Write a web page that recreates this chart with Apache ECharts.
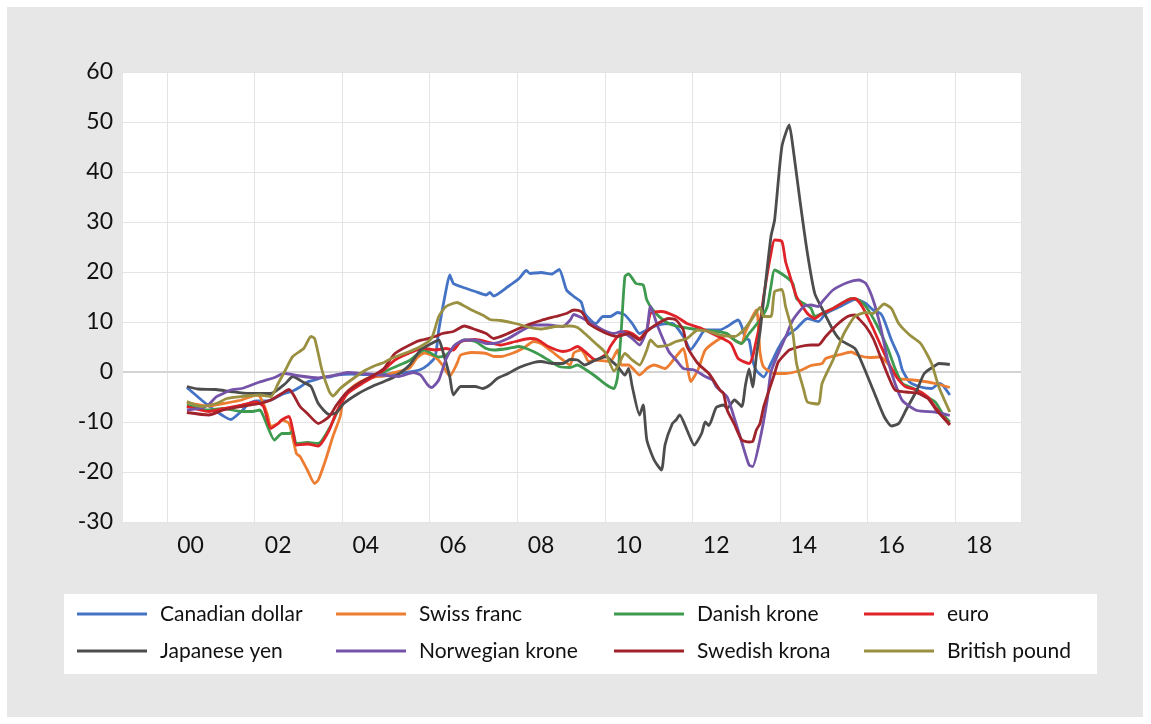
<!DOCTYPE html>
<html>
<head>
<meta charset="utf-8">
<script src="https://cdn.jsdelivr.net/npm/echarts@6/dist/echarts.min.js"></script>
<style>
  html, body { margin: 0; padding: 0; background: #fff; }
  #main { width: 1151px; height: 724px; }
</style>
</head>
<body>
<div id="main"></div>
<script>
// monthly categories, Jan 1999 .. Jun 2019
var months = [];
for (var yr = 1999; yr <= 2019; yr++) {
  for (var mo = 1; mo <= 12; mo++) {
    if (yr === 2019 && mo > 6) break;
    months.push(yr + '-' + (mo < 10 ? '0' + mo : '' + mo));
  }
}
var yearLabels = ['00', '02', '04', '06', '08', '10', '12', '14', '16', '18'];

var names = ['Canadian dollar', 'Swiss franc', 'Danish krone', 'euro',
             'Japanese yen', 'Norwegian krone', 'Swedish krona', 'British pound'];
var colors = ['#4472C4', '#ED7D31', '#3E9A4E', '#DF2329',
              '#4D4D4D', '#7553A8', '#A0222B', '#9A9041'];

var cad = [['2000-06',-3.1],['2000-10',-5.6],['2000-12',-6.8],['2001-02',-7.8],['2001-04',-8.8],['2001-06',-9.5],
  ['2001-09',-7.8],['2001-11',-6.3],['2002-01',-5.8],['2002-04',-5.8],['2002-06',-5.3],['2002-08',-4.5],['2002-11',-3.8],
  ['2003-01',-3.0],['2003-03',-2.0],['2003-05',-1.6],['2003-07',-1.1],['2003-09',-1.0],['2003-11',-0.6],['2004-03',-0.4],
  ['2004-07',-0.5],['2004-11',-0.5],['2005-03',-0.3],['2005-07',0.0],['2005-10',0.5],['2005-12',1.4],['2006-02',3.0],
  ['2006-03',8.4],['2006-05',16.4],['2006-06',19.4],['2006-07',17.7],['2006-09',17.1],['2007-01',16.1],['2007-04',15.4],
  ['2007-05',15.9],['2007-06',15.2],['2007-10',17.1],['2008-01',18.7],['2008-03',20.3],['2008-04',19.7],['2008-07',19.9],
  ['2008-10',19.6],['2008-12',20.5],['2009-02',16.4],['2009-04',15.1],['2009-06',14.0],['2009-07',11.7],['2009-09',10.1],
  ['2009-10',9.7],['2009-12',11.1],['2010-02',11.1],['2010-04',11.9],['2010-06',11.4],['2010-08',9.7],['2010-10',7.7],
  ['2010-12',8.4],['2011-03',9.4],['2011-07',9.7],['2011-10',7.1],['2011-12',4.5],['2012-02',6.4],['2012-04',8.4],
  ['2012-08',8.4],['2012-10',9.1],['2013-01',10.4],['2013-02',9.1],['2013-03',6.7],['2013-04',6.4],['2013-05',2.3],
  ['2013-06',0.3],['2013-08',-1.0],['2013-10',1.7],['2013-12',4.7],['2014-02',7.0],['2014-05',8.7],['2014-08',10.7],
  ['2014-11',10.1],['2015-01',11.7],['2015-05',13.1],['2015-09',14.5],['2015-10',14.4],['2015-12',13.7],['2016-02',12.4],
  ['2016-04',11.7],['2016-05',10.4],['2016-07',6.4],['2016-09',3.1],['2016-10',0.4],['2016-12',-2.0],['2017-03',-3.0],
  ['2017-06',-3.3],['2017-08',-2.3],['2017-09',-2.6],['2017-11',-4.6]];

var chf = [['2000-06',-6.1],['2000-12',-6.8],['2001-04',-6.3],['2001-09',-5.6],['2002-01',-4.6],['2002-02',-4.9],
  ['2002-04',-8.3],['2002-05',-10.9],['2002-07',-10.3],['2002-08',-9.6],['2002-10',-10.3],['2002-12',-16.3],['2003-01',-16.9],
  ['2003-03',-19.6],['2003-05',-22.3],['2003-06',-21.6],['2003-08',-17.6],['2003-10',-12.9],['2003-12',-8.9],['2004-01',-4.9],
  ['2004-04',-2.6],['2004-08',-1.1],['2004-12',-0.8],['2005-02',-0.3],['2005-07',0.8],['2005-09',2.8],['2005-11',3.8],
  ['2006-02',3.0],['2006-04',1.4],['2006-06',-0.8],['2006-08',1.7],['2006-09',3.4],['2006-12',3.9],['2007-04',3.7],
  ['2007-06',3.1],['2007-08',3.1],['2007-11',3.7],['2008-02',4.7],['2008-05',6.1],['2008-07',5.7],['2008-10',4.1],
  ['2009-01',2.4],['2009-03',1.4],['2009-04',3.8],['2009-06',4.4],['2009-07',3.5],['2009-08',2.1],['2009-10',2.4],
  ['2010-02',2.1],['2010-04',4.4],['2010-05',1.4],['2010-07',1.4],['2010-10',-0.6],['2010-12',0.7],['2011-02',1.4],
  ['2011-05',0.7],['2011-08',3.1],['2011-10',4.7],['2011-11',1.7],['2011-12',-1.9],['2012-02',0.4],['2012-04',4.4],
  ['2012-07',6.2],['2012-10',7.4],['2012-12',6.4],['2013-02',5.7],['2013-03',8.0],['2013-06',12.4],['2013-07',4.0],
  ['2013-08',1.0],['2013-11',-0.3],['2014-02',-0.3],['2014-06',0.3],['2014-09',1.3],['2014-12',1.7],['2015-01',2.7],
  ['2015-05',3.5],['2015-08',4.0],['2015-10',3.3],['2016-01',2.9],['2016-04',3.0],['2016-06',1.7],['2016-08',-0.3],
  ['2016-09',-1.3],['2017-01',-1.6],['2017-05',-2.0],['2017-07',-2.3],['2017-11',-3.1]];

var dkk = [['2000-06',-6.6],['2000-12',-7.6],['2001-04',-7.3],['2001-09',-7.9],['2001-12',-7.9],['2002-02',-7.6],
  ['2002-03',-8.9],['2002-06',-13.6],['2002-07',-12.9],['2002-08',-12.3],['2002-10',-12.3],['2002-11',-11.9],['2002-12',-14.3],
  ['2003-03',-14.1],['2003-06',-14.3],['2003-09',-11.3],['2003-11',-8.3],['2004-01',-4.9],['2004-05',-2.5],['2004-10',-0.6],
  ['2005-03',1.0],['2005-07',2.3],['2005-11',4.4],['2006-03',3.0],['2006-05',3.4],['2006-08',5.4],['2006-10',6.4],
  ['2007-01',6.1],['2007-04',4.7],['2007-06',4.4],['2007-10',4.7],['2008-01',5.1],['2008-03',4.7],['2008-06',3.7],
  ['2008-09',2.4],['2008-12',1.1],['2009-03',0.9],['2009-05',1.4],['2009-07',0.6],['2009-10',-0.9],['2010-01',-2.6],
  ['2010-03',-3.3],['2010-04',-0.9],['2010-05',8.4],['2010-06',19.1],['2010-07',19.6],['2010-09',17.7],['2010-11',17.4],
  ['2010-12',14.4],['2011-02',12.1],['2011-05',10.1],['2011-07',9.4],['2011-11',8.8],['2012-03',8.4],['2012-07',8.1],
  ['2012-10',7.7],['2012-12',6.4],['2013-02',5.7],['2013-04',7.7],['2013-07',10.4],['2013-09',13.1],['2013-10',17.1],
  ['2013-11',20.4],['2014-02',19.1],['2014-04',17.7],['2014-05',14.7],['2014-07',13.7],['2014-09',12.7],['2014-10',11.1],
  ['2014-12',11.7],['2015-03',12.7],['2015-06',14.0],['2015-08',14.7],['2015-10',14.4],['2015-12',13.1],['2016-03',9.4],
  ['2016-06',4.7],['2016-08',0.7],['2016-10',-2.3],['2017-01',-3.3],['2017-04',-4.7],['2017-07',-6.0],['2017-09',-8.3],
  ['2017-11',-10.0]];

var eur = [['2000-06',-6.9],['2000-12',-7.9],['2001-04',-7.3],['2001-09',-6.6],['2002-01',-6.0],['2002-03',-6.9],
  ['2002-05',-11.3],['2002-07',-10.3],['2002-08',-9.6],['2002-10',-8.9],['2002-11',-11.6],['2002-12',-14.6],['2003-03',-14.4],
  ['2003-06',-14.8],['2003-09',-11.6],['2003-11',-8.0],['2004-02',-4.3],['2004-06',-2.3],['2004-10',-0.6],['2004-12',0.4],
  ['2005-03',2.4],['2005-09',4.4],['2005-11',4.7],['2006-02',4.4],['2006-05',4.7],['2006-07',4.4],['2006-09',6.1],
  ['2007-01',6.5],['2007-05',5.9],['2007-08',5.4],['2007-12',6.1],['2008-04',6.7],['2008-06',6.5],['2008-09',5.1],
  ['2009-01',4.1],['2009-03',4.4],['2009-05',5.1],['2009-07',4.1],['2009-10',2.4],['2010-01',3.7],['2010-02',5.1],
  ['2010-04',7.1],['2010-06',8.1],['2010-08',7.7],['2010-10',6.7],['2010-12',8.4],['2011-01',11.7],['2011-04',12.1],
  ['2011-08',11.1],['2011-11',9.7],['2012-03',8.7],['2012-07',7.3],['2012-11',5.7],['2013-01',2.7],['2013-04',1.7],
  ['2013-05',3.1],['2013-06',6.4],['2013-07',9.7],['2013-08',15.1],['2013-10',23.7],['2013-11',26.4],['2014-01',26.1],
  ['2014-02',22.1],['2014-03',19.7],['2014-05',15.1],['2014-08',11.7],['2014-10',10.7],['2014-12',11.7],['2015-03',12.7],
  ['2015-07',14.4],['2015-09',14.7],['2015-11',13.1],['2016-02',8.7],['2016-04',5.4],['2016-07',0.7],['2016-09',-1.6],
  ['2016-11',-3.0],['2017-02',-3.6],['2017-05',-5.0],['2017-07',-7.0],['2017-11',-10.5]];

var jpy = [['2000-06',-2.9],['2000-09',-3.4],['2001-02',-3.5],['2001-06',-3.9],['2001-11',-4.3],['2002-05',-4.3],
  ['2002-09',-2.3],['2002-11',-0.9],['2003-02',-2.1],['2003-04',-2.9],['2003-06',-6.3],['2003-09',-8.5],['2003-11',-8.1],
  ['2004-01',-6.3],['2004-05',-4.3],['2004-09',-2.8],['2004-12',-1.9],['2005-03',-0.9],['2005-07',1.4],['2005-10',4.4],
  ['2006-01',5.7],['2006-03',6.4],['2006-04',4.4],['2006-06',-0.9],['2006-07',-4.6],['2006-09',-2.9],['2007-01',-2.9],
  ['2007-03',-3.3],['2007-05',-2.6],['2007-07',-1.3],['2007-10',-0.3],['2008-01',0.9],['2008-05',1.9],['2008-07',2.1],
  ['2008-10',1.7],['2009-01',1.7],['2009-03',2.5],['2009-05',2.4],['2009-07',1.4],['2009-10',2.4],['2010-01',3.1],
  ['2010-02',2.4],['2010-04',1.1],['2010-06',-0.6],['2010-07',0.7],['2010-08',-2.9],['2010-10',-8.6],['2010-11',-6.6],
  ['2010-12',-13.6],['2011-02',-17.6],['2011-04',-19.6],['2011-05',-14.5],['2011-07',-10.3],['2011-08',-9.6],['2011-09',-8.6],
  ['2011-11',-11.6],['2012-01',-14.6],['2012-03',-12.3],['2012-04',-10.0],['2012-05',-10.7],['2012-07',-7.1],['2012-09',-6.6],
  ['2012-10',-7.3],['2012-12',-5.6],['2013-02',-6.9],['2013-03',-2.7],['2013-04',0.6],['2013-05',-3.0],['2013-06',3.2],
  ['2013-07',8.0],['2013-08',14.4],['2013-10',27.1],['2013-11',30.4],['2014-01',45.1],['2014-03',49.4],['2014-04',45.1],
  ['2014-06',34.0],['2014-08',23.7],['2014-10',15.7],['2014-12',12.7],['2015-03',8.4],['2015-05',6.4],['2015-09',4.7],
  ['2015-11',1.7],['2016-02',-3.6],['2016-05',-8.9],['2016-07',-10.8],['2016-09',-10.3],['2016-11',-7.6],['2017-02',-3.6],
  ['2017-04',-0.3],['2017-07',1.3],['2017-08',1.7],['2017-11',1.5]];

var nok = [['2000-06',-7.6],['2000-10',-7.2],['2000-12',-6.5],['2001-02',-5.0],['2001-04',-4.3],['2001-06',-3.6],
  ['2001-09',-3.3],['2001-11',-2.8],['2002-02',-2.0],['2002-06',-1.1],['2002-08',-0.4],['2002-09',-0.3],['2003-01',-0.8],
  ['2003-06',-1.2],['2003-11',-0.6],['2004-02',-0.1],['2004-06',-0.3],['2004-11',-0.6],['2005-04',-0.9],['2005-08',-0.1],
  ['2005-10',-0.6],['2005-12',-2.6],['2006-01',-3.1],['2006-03',-1.6],['2006-05',2.6],['2006-07',5.1],['2006-08',5.7],
  ['2006-10',6.4],['2007-01',6.4],['2007-04',5.7],['2007-06',5.7],['2007-10',6.7],['2008-02',8.4],['2008-05',9.4],
  ['2008-09',9.4],['2009-01',9.1],['2009-03',10.4],['2009-04',11.5],['2009-06',10.9],['2009-08',10.1],['2009-12',8.4],
  ['2010-03',7.7],['2010-05',8.1],['2010-08',6.7],['2010-10',5.4],['2010-12',8.4],['2011-01',13.1],['2011-03',9.1],
  ['2011-06',4.1],['2011-08',2.4],['2011-10',0.7],['2012-01',0.4],['2012-04',-0.9],['2012-06',-1.6],['2012-07',-2.9],
  ['2012-10',-5.0],['2012-12',-9.3],['2013-02',-14.0],['2013-04',-18.6],['2013-05',-18.9],['2013-07',-13.5],['2013-09',-5.5],
  ['2013-10',0.0],['2013-12',3.7],['2014-02',7.0],['2014-04',10.4],['2014-07',13.1],['2014-09',13.4],['2014-11',13.1],
  ['2014-12',14.0],['2015-03',16.4],['2015-07',17.9],['2015-10',18.4],['2015-12',17.7],['2016-02',14.4],['2016-04',9.1],
  ['2016-06',2.4],['2016-08',-2.3],['2016-10',-5.7],['2017-02',-7.7],['2017-07',-8.0],['2017-11',-8.7]];

var sek = [['2000-06',-8.1],['2000-12',-8.6],['2001-04',-7.6],['2001-09',-6.9],['2002-02',-6.3],['2002-05',-5.6],
  ['2002-08',-4.3],['2002-10',-3.5],['2003-01',-6.9],['2003-03',-8.3],['2003-06',-10.3],['2003-09',-8.9],['2003-11',-6.6],
  ['2004-02',-3.9],['2004-06',-1.9],['2004-10',-0.3],['2004-12',0.7],['2005-03',3.7],['2005-09',6.1],['2005-11',6.5],
  ['2006-02',7.1],['2006-04',7.7],['2006-07',8.1],['2006-10',9.2],['2007-01',8.5],['2007-04',7.7],['2007-06',6.7],
  ['2007-09',7.4],['2007-12',8.4],['2008-04',9.6],['2008-07',10.3],['2008-11',11.1],['2009-02',11.7],['2009-04',12.4],
  ['2009-06',12.1],['2009-07',11.1],['2009-08',9.7],['2009-11',8.4],['2010-02',7.4],['2010-04',7.1],['2010-07',7.7],
  ['2010-10',6.4],['2010-12',8.1],['2011-03',9.7],['2011-06',10.7],['2011-08',10.4],['2011-10',8.4],['2011-11',5.1],
  ['2012-02',1.7],['2012-05',-0.3],['2012-08',-3.6],['2012-09',-4.3],['2012-10',-7.6],['2012-12',-10.5],['2013-02',-13.6],
  ['2013-04',-14.0],['2013-05',-13.9],['2013-06',-11.6],['2013-07',-10.3],['2013-08',-7.0],['2013-10',-2.5],['2013-11',-0.3],
  ['2013-12',2.0],['2014-02',3.7],['2014-03',4.4],['2014-06',5.1],['2014-09',5.4],['2014-11',5.4],['2015-01',7.1],
  ['2015-04',9.4],['2015-07',11.1],['2015-09',11.4],['2015-10',10.7],['2015-12',9.1],['2016-02',6.7],['2016-04',3.1],
  ['2016-06',-0.6],['2016-08',-3.6],['2016-11',-4.0],['2017-02',-4.2],['2017-05',-5.3],['2017-07',-7.3],['2017-11',-10.6]];

var gbp = [['2000-06',-5.9],['2000-10',-6.9],['2001-02',-6.3],['2001-05',-5.3],['2001-09',-4.9],['2002-02',-4.6],
  ['2002-05',-4.9],['2002-07',-2.3],['2002-09',0.4],['2002-11',3.1],['2003-02',4.7],['2003-04',7.1],['2003-05',6.7],
  ['2003-07',0.4],['2003-09',-3.9],['2003-10',-4.8],['2003-12',-3.3],['2004-03',-1.6],['2004-07',0.4],['2004-10',1.4],
  ['2004-12',1.9],['2005-02',2.7],['2005-07',4.1],['2005-10',5.1],['2006-01',6.7],['2006-03',11.1],['2006-05',13.1],
  ['2006-08',13.9],['2006-10',13.2],['2006-12',12.4],['2007-03',11.4],['2007-05',10.5],['2007-08',10.3],['2007-12',9.7],
  ['2008-04',8.9],['2008-07',8.6],['2008-11',9.1],['2009-03',9.2],['2009-05',8.9],['2009-07',7.7],['2009-10',5.7],
  ['2009-12',4.4],['2010-01',3.4],['2010-03',0.2],['2010-04',1.1],['2010-06',3.7],['2010-08',2.4],['2010-10',1.4],
  ['2010-12',4.4],['2011-01',6.4],['2011-03',5.1],['2011-06',5.4],['2011-08',6.1],['2011-11',6.7],['2012-02',8.4],
  ['2012-05',8.1],['2012-08',7.4],['2012-12',7.1],['2013-01',7.4],['2013-03',8.8],['2013-05',10.8],['2013-07',12.9],
  ['2013-08',11.1],['2013-10',11.1],['2013-11',16.1],['2014-01',16.5],['2014-02',13.1],['2014-04',7.7],['2014-05',1.7],
  ['2014-07',-3.6],['2014-08',-6.0],['2014-11',-6.4],['2014-12',-2.3],['2015-03',2.4],['2015-06',7.7],['2015-09',11.1],
  ['2015-12',11.9],['2016-02',11.7],['2016-05',13.6],['2016-07',12.7],['2016-09',9.7],['2016-12',7.4],['2017-03',5.7],
  ['2017-06',1.7],['2017-08',-3.0],['2017-11',-8.0]];

var seriesData = [cad, chf, dkk, eur, jpy, nok, sek, gbp];

var FONT = 'Lato, "Noto Sans", sans-serif';

var chart = echarts.init(document.getElementById('main'));

var series = names.map(function (n, i) {
  var s = {
    name: n,
    type: 'line',
    data: seriesData[i],
    symbol: 'none',
    smooth: 0.2,
    lineStyle: { color: colors[i], width: 2.8 },
    itemStyle: { color: colors[i] },
    emphasis: { disabled: true }
  };
  if (i === 0) {
    // horizontal axis line at zero
    s.markLine = {
      silent: true,
      z: 1,
      symbol: ['none', 'none'],
      label: { show: false },
      lineStyle: { color: '#d4d4d4', width: 2, type: 'solid' },
      data: [{ yAxis: 0 }]
    };
  }
  return s;
});

function legendCol(items, left) {
  return {
    data: items,
    orient: 'vertical',
    left: left,
    top: 603,
    padding: 0,
    icon: 'rect',
    itemWidth: 70,
    itemHeight: 3,
    itemGap: 15,
    selectedMode: false,
    textStyle: { fontFamily: FONT, fontSize: 21, color: '#111', lineHeight: 22, padding: [0, 0, 0, 8] }
  };
}

var option = {
  animation: false,
  backgroundColor: '#fff',
  graphic: [
    { type: 'rect', z: -10, shape: { x: 7, y: 7, width: 1136, height: 710 }, style: { fill: '#e7e7e7' } },
    { type: 'rect', z: -9, shape: { x: 64, y: 594, width: 1033, height: 80 }, style: { fill: '#ffffff' } }
  ],
  grid: {
    left: 123, right: 130, top: 72, bottom: 202,
    show: true, backgroundColor: '#ffffff', borderWidth: 0
  },
  legend: [
    legendCol(['Canadian dollar', 'Japanese yen'], 77),
    legendCol(['Swiss franc', 'Norwegian krone'], 336),
    legendCol(['Danish krone', 'Swedish krona'], 614),
    legendCol(['euro', 'British pound'], 864)
  ],
  xAxis: {
    type: 'category',
    data: months,
    boundaryGap: true,
    axisLine: { show: false },
    axisTick: { show: false },
    splitLine: {
      show: true,
      interval: function (index) { return index % 24 === 12; },
      lineStyle: { color: '#e4e4e4', width: 1 }
    },
    axisLabel: {
      interval: function (index) { return index % 24 === 18; },
      formatter: function (v) { return yearLabels[(+v.slice(0, 4) - 2000) / 2]; },
      fontFamily: FONT,
      fontSize: 23,
      color: '#111',
      margin: 12
    }
  },
  yAxis: {
    type: 'value',
    min: -30,
    max: 60,
    interval: 10,
    axisLine: { show: false },
    axisTick: { show: false },
    splitLine: { lineStyle: { color: '#e4e4e4', width: 1 } },
    axisLabel: { fontFamily: FONT, fontSize: 23, color: '#111', margin: 10 }
  },
  series: series
};

chart.setOption(option);
</script>
</body>
</html>
